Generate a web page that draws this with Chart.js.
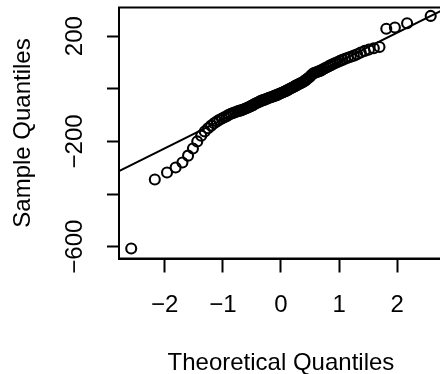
<!DOCTYPE html>
<html lang="en">
<head>
<meta charset="UTF-8">
<title>Normal Q-Q Plot</title>
<script src="https://cdn.jsdelivr.net/npm/chart.js"></script>
<style>
  html, body { margin: 0; padding: 0; background: #fff; }
  #wrap { width: 440px; height: 374px; overflow: hidden; }
</style>
</head>
<body>
<div id="wrap"><canvas id="qq" width="450" height="374"></canvas></div>
<script>
// theoretical normal quantiles (x) and sorted sample values (y)
var theoretical = [-2.576, -2.170, -1.960, -1.812, -1.695, -1.598, -1.514, -1.440, -1.372, -1.311,
  -1.254, -1.200, -1.150, -1.103, -1.058, -1.015, -0.974, -0.935, -0.897, -0.860,
  -0.824, -0.789, -0.755, -0.723, -0.690, -0.659, -0.628, -0.598, -0.568, -0.539,
  -0.510, -0.482, -0.454, -0.426, -0.399, -0.372, -0.345, -0.319, -0.292, -0.266,
  -0.240, -0.215, -0.189, -0.164, -0.138, -0.113, -0.088, -0.063, -0.038, -0.013,
  0.013, 0.038, 0.063, 0.088, 0.113, 0.138, 0.164, 0.189, 0.215, 0.240,
  0.266, 0.292, 0.319, 0.345, 0.372, 0.399, 0.426, 0.454, 0.482, 0.510,
  0.539, 0.568, 0.598, 0.628, 0.659, 0.690, 0.723, 0.755, 0.789, 0.824,
  0.860, 0.897, 0.935, 0.974, 1.015, 1.058, 1.103, 1.150, 1.200, 1.254,
  1.311, 1.372, 1.440, 1.514, 1.598, 1.695, 1.812, 1.960, 2.170, 2.576];
var sample = [-607, -345, -318, -299, -280, -254, -227, -200, -178, -162,
  -150, -140, -131, -124, -118, -113, -108, -104, -99, -95,
  -92, -89, -86, -84, -82, -80, -77, -74, -71, -68,
  -65, -62, -58, -55, -52, -49, -46, -44, -42, -40,
  -38, -35, -33, -31, -29, -27, -25, -23, -20, -18,
  -15, -13, -10, -8, -5, -2, 1, 4, 7, 10,
  13, 16, 19, 22, 25, 29, 33, 38, 43, 49,
  55, 60, 62, 65, 67, 70, 74, 78, 82, 86,
  90, 94, 98, 102, 106, 110, 114, 118, 122, 126,
  131, 138, 144, 149, 154, 159, 228, 233, 249, 277];

var xTicks = [-2, -1, 0, 1, 2];
var yTicks = [-600, -400, -200, 0, 200];
var yTickLabels = [-600, -200, 200];
var xRange = [-2.786, 2.786];
var yRange = [-645, 309];

// qqline: through the 1st and 3rd quartiles (type 7)
function quantile(arr, p) {
  var s = arr.slice().sort(function (a, b) { return a - b; });
  var h = (s.length - 1) * p;
  var lo = Math.floor(h);
  return s[lo] + (h - lo) * (s[Math.min(lo + 1, s.length - 1)] - s[lo]);
}
var zq = 0.6744898;
var q1 = quantile(sample, 0.25), q3 = quantile(sample, 0.75);
var slope = (q3 - q1) / (2 * zq);
var intercept = q1 + slope * zq;

var points = theoretical.map(function (x, i) { return { x: x, y: sample[i] }; });
var linePts = xRange.map(function (x) { return { x: x, y: intercept + slope * x }; });

function fmt(v) { return String(v).replace('-', '\u2212'); }

var FONT = '"Liberation Sans", Arial, Helvetica, sans-serif';

var boxPlugin = {
  id: 'box',
  afterDraw: function (chart) {
    var ctx = chart.ctx, a = chart.chartArea;
    ctx.save();
    ctx.strokeStyle = '#000';
    ctx.lineWidth = 2;
    ctx.strokeRect(a.left, a.top, a.right - a.left, a.bottom - a.top);
    // rotated y tick labels, as R draws them
    var ys = chart.scales.y;
    ctx.fillStyle = '#000';
    ctx.font = '24px ' + FONT;
    ctx.textAlign = 'center';
    ctx.textBaseline = 'middle';
    yTickLabels.forEach(function (v) {
      ctx.save();
      ctx.translate(75, ys.getPixelForValue(v));
      ctx.rotate(-Math.PI / 2);
      ctx.fillText(fmt(v), 0, 0);
      ctx.restore();
    });
    ctx.restore();
  }
};

new Chart(document.getElementById('qq'), {
  type: 'scatter',
  data: {
    datasets: [{
      type: 'line',
      data: linePts,
      borderColor: '#000',
      borderWidth: 2,
      pointRadius: 0,
      fill: false
    }, {
      data: points,
      pointStyle: 'circle',
      pointRadius: 5,
      pointHoverRadius: 5,
      borderWidth: 2.1,
      borderColor: '#000',
      backgroundColor: 'rgba(0,0,0,0)'
    }]
  },
  options: {
    responsive: false,
    animation: false,
    devicePixelRatio: 1,
    layout: { padding: { top: 7.5, right: 5, bottom: 0, left: 0 } },
    plugins: { legend: { display: false }, tooltip: { enabled: false } },
    scales: {
      x: {
        type: 'linear',
        min: xRange[0], max: xRange[1],
        afterBuildTicks: function (s) { s.ticks = xTicks.map(function (v) { return { value: v }; }); },
        afterFit: function (s) { s.height = 115.5; },
        grid: { drawOnChartArea: false, drawTicks: true, tickLength: 14, tickWidth: 2, tickColor: '#000' },
        border: { display: true, color: '#000', width: 2 },
        ticks: {
          color: '#000', padding: 18, maxRotation: 0, autoSkip: false,
          font: { family: FONT, size: 24 },
          callback: function (v) { return fmt(v); }
        },
        title: {
          display: true, text: 'Theoretical Quantiles', color: '#000',
          font: { family: FONT, size: 24, lineHeight: 0.9 }, padding: 0
        }
      },
      y: {
        type: 'linear',
        min: yRange[0], max: yRange[1],
        afterBuildTicks: function (s) { s.ticks = yTicks.map(function (v) { return { value: v }; }); },
        afterFit: function (s) { s.width = 119; },
        grid: { drawOnChartArea: false, drawTicks: true, tickLength: 12, tickWidth: 2, tickColor: '#000' },
        border: { display: true, color: '#000', width: 2 },
        ticks: { display: false },
        title: {
          display: true, text: 'Sample Quantiles', color: '#000',
          font: { family: FONT, size: 24 }, padding: { top: 8.5, bottom: 0 }
        }
      }
    }
  },
  plugins: [boxPlugin]
});
</script>
</body>
</html>
